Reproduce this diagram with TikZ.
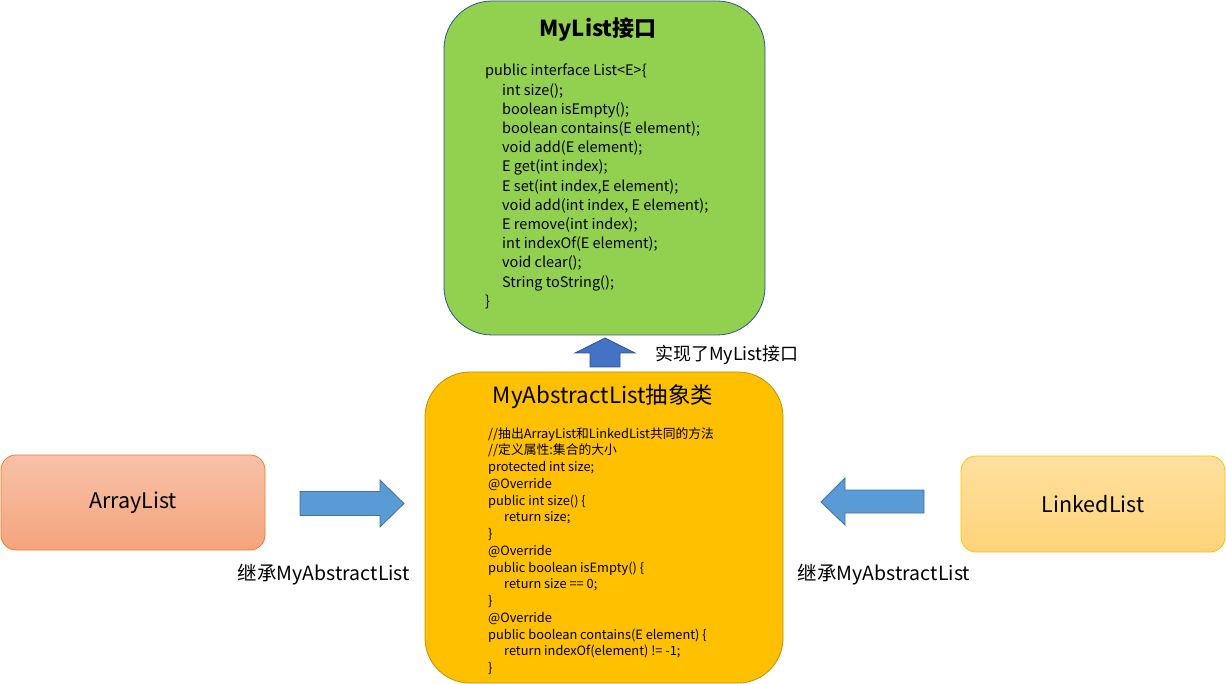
\documentclass[tikz,border=0pt]{standalone}
\usepackage{fontspec}
\setmainfont{Noto Sans CJK SC}
\usetikzlibrary{calc}
\usetikzlibrary{positioning}
\definecolor{listgreen}{HTML}{92D050}
\definecolor{listedge}{HTML}{2F528F}
\definecolor{absorange}{HTML}{FFC000}
\definecolor{absedge}{HTML}{BF9000}
\definecolor{arrtop}{HTML}{F8C1A8}
\definecolor{arrbot}{HTML}{F4A47C}
\definecolor{arredge}{HTML}{ED7D31}
\definecolor{lnktop}{HTML}{FFE0A0}
\definecolor{lnkbot}{HTML}{FFD479}
\definecolor{lnkedge}{HTML}{FFC000}
\definecolor{upblue}{HTML}{4472C4}
\definecolor{upedge}{HTML}{2F528F}
\definecolor{sideblue}{HTML}{5B9BD5}
\definecolor{sideedge}{HTML}{41719C}
\newcommand{\codeind}{\hspace*{17pt}}
\newcommand{\absind}{\hspace*{16pt}}

\begin{document}
\begin{tikzpicture}[x=1pt,y=-1pt,inner sep=0pt,
  box/.style={draw,rounded corners=#1,line width=0.8pt},
  code/.style={align=left,anchor=north west},
  blockarrow/.style={line width=0.8pt,line join=miter},
  lbl/.style={font=\fontsize{18}{21}\selectfont}]
\useasboundingbox (0,0) rectangle (1226,684);

\node[box=48,fill=listgreen,draw=listedge,minimum width=321pt,minimum height=334pt] (list) at (604.5,168) {};
\node[font=\bfseries\fontsize{22}{26}\selectfont] (listTitle) at (598,30) {MyList接口};
\node[code,font=\fontsize{14.5}{19.2}\selectfont] (listCode) at (485,64) {public interface List<E>\{\\
\codeind int size();\\
\codeind boolean isEmpty();\\
\codeind boolean contains(E element);\\
\codeind void add(E element);\\
\codeind E get(int index);\\
\codeind E set(int index,E element);\\
\codeind void add(int index, E element);\\
\codeind E remove(int index);\\
\codeind int indexOf(E element);\\
\codeind void clear();\\
\codeind String toString();\\
\}};

\node[box=45,fill=absorange,draw=absedge,minimum width=358pt,minimum height=311pt] (abs) at (604,527.5) {};
\node[font=\fontsize{22.4}{26}\selectfont] (absTitle) at (603,397) {MyAbstractList抽象类};
\node[code,font=\fontsize{12.8}{16.75}\selectfont] (absCode) at (488,427) {//抽出ArrayList和LinkedList共同的方法\\
//定义属性:集合的大小\\
protected int size;\\
@Override\\
public int size() \{\\
\absind return size;\\
\}\\
@Override\\
public boolean isEmpty() \{\\
\absind return size == 0;\\
\}\\
@Override\\
public boolean contains(E element) \{\\
\absind return indexOf(element) != -1;\\
\}};

\node[box=15,top color=arrtop,bottom color=arrbot,draw=arredge,minimum width=264pt,minimum height=95pt,font=\fontsize{21.5}{25}\selectfont] (arr) at (133,502.5) {ArrayList};
\node[box=15,top color=lnktop,bottom color=lnkbot,draw=lnkedge,minimum width=264pt,minimum height=96pt,font=\fontsize{21.5}{25}\selectfont] (lnk) at (1093,504) {LinkedList};

\coordinate (upTip) at (605,338);
\coordinate (rightTip) at (404,503.5);
\coordinate (leftTip) at (821,502);
\filldraw[blockarrow,fill=upblue,draw=upedge] (upTip) -- ++(30,15) -- ++(-15,0) -- ++(0,14) -- ++(-30,0) -- ++(0,-14) -- ++(-15,0) -- cycle;
\filldraw[blockarrow,fill=sideblue,draw=sideedge] (rightTip) -- ++(-24,-23.5) -- ++(0,11.5) -- ++(-80,0) -- ++(0,24) -- ++(80,0) -- ++(0,11.5) -- cycle;
\filldraw[blockarrow,fill=sideblue,draw=sideedge] (leftTip) -- ++(24,-24) -- ++(0,12) -- ++(79,0) -- ++(0,23) -- ++(-79,0) -- ++(0,12) -- cycle;

\node[lbl,anchor=west] (upLbl) at (655,355) {实现了MyList接口};
\node[lbl,font=\fontsize{19.5}{22}\selectfont] (leftLbl) at (324,575) {继承MyAbstractList};
\node[lbl,font=\fontsize{19.5}{22}\selectfont] (rightLbl) at (884,575) {继承MyAbstractList};
\end{tikzpicture}
\end{document}
